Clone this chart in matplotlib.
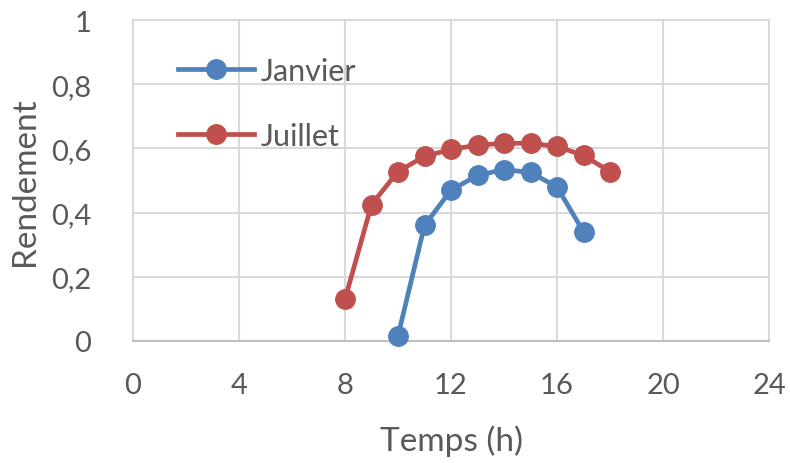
import matplotlib
matplotlib.use("Agg")
import matplotlib.pyplot as plt
from matplotlib.ticker import FuncFormatter

# Hourly efficiency for January and July
heures_janvier = [10, 11, 12, 13, 14, 15, 16, 17]
rendement_janvier = [0.016, 0.36, 0.47, 0.516, 0.534, 0.525, 0.48, 0.34]

heures_juillet = [8, 9, 10, 11, 12, 13, 14, 15, 16, 17, 18]
rendement_juillet = [0.13, 0.425, 0.528, 0.575, 0.597, 0.61, 0.616, 0.616, 0.606, 0.578, 0.528]

x_ticks = [0, 4, 8, 12, 16, 20, 24]
y_ticks = [0, 0.2, 0.4, 0.6, 0.8, 1.0]

TEXT = "#595959"
GRID = "#d9d9d9"
BLUE = "#4f81bd"
RED = "#c0504d"

plt.rcParams["font.family"] = ["Lato", "DejaVu Sans"]

fig = plt.figure(figsize=(7.9, 4.64), dpi=100)
ax = fig.add_axes([133 / 790, 1 - 342 / 464, (769 - 133) / 790, (342 - 21) / 464])

ax.plot(heures_janvier, rendement_janvier, color=BLUE, lw=3.4, marker="o",
        markersize=14, label="Janvier", clip_on=False, zorder=3)
ax.plot(heures_juillet, rendement_juillet, color=RED, lw=3.4, marker="o",
        markersize=14, label="Juillet", clip_on=False, zorder=3)

ax.set_xlim(0, 24)
ax.set_ylim(0, 1)
ax.set_xticks(x_ticks)
ax.set_yticks(y_ticks)
ax.yaxis.set_major_formatter(FuncFormatter(lambda v, p: f"{v:g}".replace(".", ",")))

ax.grid(True, color=GRID, lw=1.5)
ax.set_axisbelow(True)
for s in ax.spines.values():
    s.set_color(GRID)
    s.set_linewidth(1.5)
ax.spines["bottom"].set_color("#bfbfbf")

ax.tick_params(length=0, labelsize=21, colors=TEXT)
ax.tick_params(axis="x", pad=22)
ax.tick_params(axis="y", pad=30)

ax.set_xlabel("Temps (h)", fontsize=24, color=TEXT, labelpad=19)
ax.set_ylabel("Rendement", fontsize=24, color=TEXT, labelpad=8)

leg = ax.legend(loc="upper left", bbox_to_anchor=(178 / 790, 1 - 58 / 464),
                bbox_transform=fig.transFigure, frameon=False, fontsize=22,
                handlelength=2.5, handletextpad=0.2, labelspacing=1.2,
                borderaxespad=0, borderpad=0)
for t in leg.get_texts():
    t.set_color(TEXT)

fig.savefig("out.png", dpi=100)
